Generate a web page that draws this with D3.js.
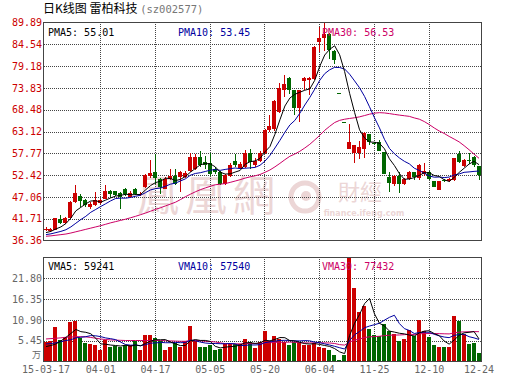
<!DOCTYPE html>
<html>
<head>
<meta charset="utf-8">
<script src="https://cdnjs.cloudflare.com/ajax/libs/d3/7.8.5/d3.min.js"></script>
<style>
  body { margin: 0; background: #fff; }
  svg { display: block; }
  text { font-family: "DejaVu Sans Mono", monospace; font-size: 10px; }
</style>
</head>
<body>
<div id="chart"></div>
<script>
// Daily K-line, 雷柏科技 (sz002577)
const open = [38.9,38.8,39.0,41.7,40.6,42.0,45.8,47.3,46.2,44.6,
  45.0,45.6,46.6,48.5,48.4,48.0,48.9,47.0,48.9,47.7,
  49.4,52.1,53.1,51.5,49.1,51.5,52.3,51.9,51.9,53.5,
  54.0,56.9,55.6,55.4,54.0,53.1,50.3,52.3,55.8,54.2,
  54.4,57.9,54.8,56.0,57.9,63.4,63.8,67.9,73.4,76.2,
  73.2,69.0,75.6,75.8,76.1,85.05,86.0,87.1,83.0,72.7,
  65.4,58.8,57.9,57.9,58.9,62.4,60.4,60.5,58.0,52.0,
  50.2,52.3,50.2,51.5,53.1,51.6,52.7,53.3,50.9,48.8,
  51.3,50.9,51.2,57.6,54.7,56.2,56.8,54.6];
const high = [39.6,39.4,41.9,42.7,42.2,46.1,50.1,47.8,46.5,45.8,
  48.2,46.5,49.9,48.8,48.6,48.3,49.2,48.4,49.3,48.3,
  52.6,56.2,57.5,51.7,51.9,53.9,53.9,53.4,53.5,57.9,
  57.7,58.3,57.2,57.8,54.4,53.4,52.7,55.5,57.6,55.7,
  58.7,58.9,56.5,58.3,63.8,67.1,70.9,75.0,76.9,76.6,
  73.4,73.4,76.4,76.5,84.0,88.7,89.89,87.3,83.2,72.7,
  65.4,65.0,59.9,60.7,62.9,62.6,60.6,61.0,58.2,53.1,
  52.4,53.1,51.6,53.5,53.2,55.1,55.4,53.5,51.0,51.0,
  51.5,51.7,56.6,58.4,56.3,57.8,57.0,54.6];
const low = [38.6,38.5,38.9,40.4,40.3,41.8,45.5,44.6,44.6,44.2,
  44.8,45.3,46.5,47.1,47.3,44.2,47.4,46.8,47.6,47.4,
  49.2,51.8,50.3,47.8,48.9,51.1,49.9,48.2,51.6,53.1,
  53.7,54.5,54.0,52.3,52.7,50.1,50.1,52.0,54.4,54.0,
  54.2,54.0,54.5,55.7,57.6,63.0,63.3,67.6,71.6,72.4,
  67.1,65.4,73.2,72.0,75.8,82.6,83.0,81.0,79.6,72.7,
  65.4,58.8,55.3,56.4,56.7,59.9,59.8,58.3,52.6,48.2,
  49.8,48.0,50.1,51.1,51.2,51.3,52.3,51.3,49.5,48.7,
  50.7,50.8,51.0,55.4,54.5,55.2,54.3,51.1];
const close = [39.2,39.1,41.8,40.6,41.9,45.9,48.0,46.1,45.0,45.3,
  46.2,46.3,48.6,47.7,47.6,47.0,47.7,48.0,47.8,47.9,
  52.5,53.0,51.7,49.5,51.5,52.3,50.3,53.2,53.0,56.8,
  56.9,54.8,54.8,52.6,53.2,50.3,52.5,55.0,54.8,55.2,
  57.9,55.6,56.0,57.8,63.4,64.4,70.7,73.7,74.7,73.2,
  69.0,73.2,76.2,76.3,83.8,86.1,87.1,83.2,80.7,72.7,
  65.4,60.5,59.7,59.4,62.7,60.5,60.1,58.4,52.7,50.4,
  52.3,50.2,51.4,53.1,52.0,55.0,53.5,51.5,49.6,50.9,
  50.9,51.4,56.5,55.6,56.1,56.0,54.8,52.4];

const ma5 = [38.3,38.6,39.2,39.7,40.52,41.86,43.64,44.5,45.38,46.06,
  46.12,45.78,46.28,46.82,47.28,47.44,47.72,47.6,47.62,47.68,
  48.78,49.84,50.58,50.92,51.64,51.6,51.06,51.36,52.06,53.12,
  54.04,54.94,55.26,55.18,54.46,53.14,52.68,52.72,53.16,53.56,
  55.08,55.7,55.9,56.5,58.14,59.44,62.46,66.0,69.38,71.34,
  72.26,72.76,73.26,73.58,75.7,79.12,81.9,83.3,84.18,81.96,
  77.82,72.5,67.8,63.54,61.54,60.56,60.48,60.22,58.88,56.42,
  54.78,52.8,51.4,51.48,51.8,52.34,53.0,53.02,52.32,52.1,
  51.28,50.86,51.86,53.06,54.1,55.12,55.8,54.98];
const ma10 = [37.8,38.0,38.3,38.6,39.0,39.7,40.6,41.5,42.3,43.29,
  43.99,44.71,45.39,46.1,46.67,46.78,46.75,46.94,47.22,47.48,
  48.11,48.78,49.09,49.27,49.66,50.19,50.45,50.97,51.49,52.38,
  52.82,53.0,53.31,53.62,53.79,53.59,53.81,53.99,54.17,54.01,
  54.11,54.19,54.31,54.83,55.85,57.26,59.08,60.95,62.94,64.74,
  65.85,67.61,69.63,71.48,73.52,75.69,77.33,78.28,78.88,78.83,
  78.47,77.2,75.55,73.86,71.75,69.19,66.49,64.01,61.21,58.98,
  57.67,56.64,55.81,55.18,54.11,53.56,52.9,52.21,51.9,51.95,
  51.81,51.93,52.44,52.69,53.1,53.2,53.33,53.42];
const ma30 = [37.4,37.5,37.65,37.8,37.95,38.2,38.5,38.8,39.1,39.4,
  39.7,40.0,40.35,40.7,41.0,41.3,41.6,41.95,42.3,42.7,
  43.1,43.55,44.0,44.4,44.85,45.3,45.75,46.4,47.1,47.72,
  48.31,48.83,49.26,49.66,50.04,50.19,50.34,50.63,50.96,51.29,
  51.68,51.99,52.24,52.57,53.1,53.68,54.45,55.3,56.2,57.04,
  57.59,58.27,59.08,59.98,61.05,62.18,63.41,64.41,65.33,65.86,
  66.14,66.33,66.5,66.72,67.04,67.38,67.63,67.75,67.68,67.52,
  67.33,67.15,67.0,66.84,66.46,66.15,65.57,64.83,64.0,63.25,
  62.65,61.92,61.27,60.58,59.65,58.65,57.57,56.55];

// volume in 万手
const volume = [5.06,5.3,9.0,5.67,6.5,10.3,10.55,6.1,4.8,4.6,
  4.45,3.1,5.67,3.75,4.0,3.75,4.2,4.36,5.3,2.9,
  7.06,7.06,6.2,5.3,3.1,3.75,4.9,3.75,5.5,9.3,
  5.3,3.75,3.75,4.2,2.9,3.2,4.7,4.5,4.6,4.6,
  6.0,5.0,3.5,5.2,8.1,5.3,6.8,6.0,5.0,4.2,
  5.0,4.9,4.3,4.45,4.8,3.9,3.5,3.1,1.6,0.5,
  1.6,27.25,19.2,13.1,14.65,8.4,7.06,6.8,9.7,7.9,
  7.1,5.5,6.0,8.2,6.6,11.0,8.0,6.5,4.45,3.93,
  3.93,3.93,11.9,10.5,7.3,4.6,4.9,2.3];
const vma5 = [3.9,4.2,4.6,5.4,6.31,7.35,8.4,7.82,7.65,7.27,
  6.1,4.61,4.52,4.31,4.19,4.05,4.27,4.01,4.32,4.1,
  4.76,5.34,5.7,5.7,5.74,5.08,4.65,4.16,4.2,5.44,
  5.75,5.52,5.52,5.26,3.98,3.56,3.75,3.9,3.98,4.32,
  4.88,4.94,4.74,4.86,5.56,5.42,5.78,6.28,6.24,5.46,
  5.4,5.02,4.68,4.57,4.69,4.47,4.19,3.95,3.38,2.52,
  2.06,6.81,10.03,12.33,15.16,16.52,12.48,10.0,9.32,7.97,
  7.71,7.4,7.24,6.94,6.68,7.46,7.96,8.06,7.31,6.78,
  5.36,4.55,5.63,6.84,7.51,7.65,7.84,5.92];
const vma10 = [4.6,4.7,4.9,5.2,5.5,5.7,6.2,6.35,6.5,6.79,
  6.73,6.51,6.17,5.98,5.73,5.08,4.44,4.27,4.32,4.15,
  4.41,4.8,4.86,5.01,4.92,4.92,4.99,4.93,4.95,5.59,
  5.42,5.09,4.84,4.73,4.71,4.66,4.64,4.71,4.62,4.15,
  4.22,4.35,4.32,4.42,4.94,5.15,5.36,5.51,5.55,5.51,
  5.41,5.4,5.48,5.41,5.08,4.94,4.61,4.32,3.98,3.61,
  3.27,5.5,6.99,7.86,8.84,9.29,9.65,10.02,10.83,11.57,
  12.12,9.94,8.62,8.13,7.33,7.59,7.68,7.65,7.13,6.73,
  6.41,6.25,6.84,7.07,7.14,6.5,6.19,5.77];
const vma30 = [5.9,6.0,6.1,6.2,6.35,6.4,6.5,6.5,6.45,6.3,
  6.1,5.9,5.75,5.65,5.6,5.55,5.5,5.5,5.5,5.5,
  5.5,5.5,5.5,5.5,5.45,5.4,5.35,5.3,5.3,5.51,
  5.52,5.47,5.29,5.24,5.12,4.89,4.69,4.64,4.63,4.63,
  4.68,4.75,4.67,4.72,4.86,4.91,5.0,5.05,5.04,5.08,
  5.02,4.94,4.88,4.85,4.91,4.91,4.87,4.85,4.72,4.42,
  4.3,5.08,5.6,5.89,6.29,6.46,6.54,6.61,6.78,6.89,
  6.93,6.95,7.03,7.13,7.08,7.27,7.31,7.33,7.31,7.3,
  7.26,7.23,7.49,7.69,7.77,7.79,7.84,7.81];

const priceTicks = [36.36, 41.71, 47.06, 52.42, 57.77, 63.12, 68.48, 73.83, 79.18, 84.54, 89.89];
const volTicks = [5.45, 10.90, 16.35, 21.80];
const xTickIdx = [0, 11, 22, 33, 44, 55, 66, 77, 87];
const xTickLabels = ['15-03-17', '04-01', '04-17', '05-05', '05-20', '06-04', '11-25', '12-10', '12-24'];

const priceLegend = [['PMA5: 55.01', '#000000'], ['PMA10: 53.45', '#0000a0'], ['PMA30: 56.53', '#cc0066']];
const volLegend = [['VMA5: 59241', '#000000'], ['VMA10: 57540', '#0000a0'], ['VMA30: 77432', '#cc0066']];

const W = 530, H = 391;
const left = 43.5, right = 481.5;
const pTop = 22.5, pBot = 240.5;
const vTop = 257.5, vBot = 361.5;
const UP = '#cc0000', DOWN = '#006600', GRID = '#444';

const svg = d3.select('#chart').append('svg')
    .attr('width', W)
    .attr('height', H);

const idx = d3.range(close.length);
const x = d3.scaleBand().domain(idx).range([left, right]);
const y = d3.scaleLinear().domain([36.36, 89.89]).range([pBot, pTop]);
const yv = d3.scaleLinear().domain([0, 27.25]).range([vBot, vTop]);
const cx = i => x(i) + x.bandwidth() / 2;
const bx = i => Math.round(x(i));

// colour of a day: up red, down green (flat days compared with previous close)
const isUp = i => close[i] > open[i] || (close[i] === open[i] && i > 0 && close[i] >= close[i - 1]);

// watermark
const wm = svg.append('g').attr('fill', '#ecd6d6');
wm.append('text')
    .attr('x', 137).attr('y', 192)
    .attr('dominant-baseline', 'central')
    .style('font-family', '"Noto Sans CJK TC"')
    .style('font-size', '42px')
    .style('letter-spacing', '6px')
    .text('鳳凰網');
wm.append('circle').attr('cx', 305).attr('cy', 197).attr('r', 14)
    .attr('fill', 'none').attr('stroke', '#ecd6d6').attr('stroke-width', 5);
wm.append('circle').attr('cx', 306).attr('cy', 196).attr('r', 5);
wm.append('text')
    .attr('x', 338).attr('y', 190)
    .attr('dominant-baseline', 'central')
    .style('font-family', '"Noto Sans CJK TC"')
    .style('font-size', '22px')
    .text('財經');
wm.append('text')
    .attr('x', 364).attr('y', 216)
    .attr('text-anchor', 'middle')
    .style('font-family', 'DejaVu Sans')
    .style('font-size', '8px')
    .style('font-weight', 'bold')
    .text('finance.ifeng.com');

// grid lines
function styleGrid(g) {
    g.select('.domain').remove();
    g.selectAll('text').remove();
    g.selectAll('line')
        .attr('stroke', GRID)
        .attr('stroke-dasharray', '1,1')
        .attr('shape-rendering', 'crispEdges');
}
svg.append('g')
    .attr('transform', `translate(${left},0)`)
    .call(d3.axisLeft(y).tickValues(priceTicks.slice(1, -1)).tickSize(-(right - left)))
    .call(styleGrid);
svg.append('g')
    .attr('transform', `translate(${left},0)`)
    .call(d3.axisLeft(yv).tickValues(volTicks).tickSize(-(right - left)))
    .call(styleGrid);
const vGrid = xTickIdx.slice(1, -1);
svg.append('g')
    .attr('transform', `translate(0,${pBot})`)
    .call(d3.axisBottom(x).tickValues(vGrid).tickSize(-(pBot - pTop)))
    .call(styleGrid);
svg.append('g')
    .attr('transform', `translate(0,${vBot})`)
    .call(d3.axisBottom(x).tickValues(vGrid).tickSize(-(vBot - vTop)))
    .call(styleGrid);

// candles
const candles = svg.append('g').attr('shape-rendering', 'crispEdges');
candles.selectAll('rect.wick')
    .data(idx)
    .join('rect')
    .attr('class', 'wick')
    .attr('x', i => bx(i) + 2)
    .attr('width', 1)
    .attr('y', i => y(high[i]))
    .attr('height', i => Math.max(1, y(low[i]) - y(high[i])))
    .attr('fill', i => isUp(i) ? UP : DOWN);
candles.selectAll('rect.body')
    .data(idx)
    .join('rect')
    .attr('class', 'body')
    .attr('x', i => bx(i))
    .attr('width', 4)
    .attr('y', i => y(Math.max(open[i], close[i])))
    .attr('height', i => Math.max(1, Math.abs(y(open[i]) - y(close[i]))))
    .attr('fill', i => isUp(i) ? UP : DOWN);

// volume bars
svg.append('g').attr('shape-rendering', 'crispEdges')
    .selectAll('rect')
    .data(idx)
    .join('rect')
    .attr('x', i => bx(i))
    .attr('width', 4)
    .attr('y', i => yv(volume[i]))
    .attr('height', i => vBot - yv(volume[i]))
    .attr('fill', i => isUp(i) ? UP : DOWN);

// moving averages
function drawLine(values, scale, color) {
    svg.append('path')
        .datum(idx)
        .attr('fill', 'none')
        .attr('stroke', color)
        .attr('stroke-width', 1)
        .attr('d', d3.line().x(cx).y(i => scale(values[i])));
}
drawLine(ma30, y, '#cc0066');
drawLine(ma10, y, '#0000a0');
drawLine(ma5, y, '#000000');
drawLine(vma30, yv, '#cc0066');
drawLine(vma10, yv, '#0000a0');
drawLine(vma5, yv, '#000000');

// frames
[[pTop, pBot], [vTop, vBot]].forEach(([t, b]) => {
    svg.append('rect')
        .attr('x', left).attr('y', t)
        .attr('width', right - left).attr('height', b - t)
        .attr('fill', 'none')
        .attr('stroke', GRID)
        .attr('shape-rendering', 'crispEdges');
});

// axes labels
svg.append('g')
    .attr('transform', `translate(42,0)`)
    .call(d3.axisLeft(y).tickValues(priceTicks).tickSize(0).tickPadding(0).tickFormat(d3.format('.2f')))
    .call(g => g.select('.domain').remove())
    .call(g => g.selectAll('text').attr('fill', '#cc0000').style('font-family', '"DejaVu Sans Mono"').style('font-size', '10px'));
svg.append('g')
    .attr('transform', `translate(42,0)`)
    .call(d3.axisLeft(yv).tickValues(volTicks).tickSize(0).tickPadding(0).tickFormat(d3.format('.2f')))
    .call(g => g.select('.domain').remove())
    .call(g => g.selectAll('text').attr('fill', '#666').style('font-family', '"DejaVu Sans Mono"').style('font-size', '10px'));
svg.append('text')
    .attr('x', 41).attr('y', 358)
    .attr('text-anchor', 'end')
    .attr('fill', '#666')
    .style('font-family', '"Noto Sans CJK SC"')
    .style('font-size', '9px')
    .text('万');

svg.append('g')
    .attr('transform', `translate(0,${vBot})`)
    .call(d3.axisBottom(x).tickValues(xTickIdx).tickSize(0).tickPadding(4)
        .tickFormat(i => xTickLabels[xTickIdx.indexOf(i)]))
    .call(g => g.select('.domain').remove())
    .call(g => g.selectAll('text').attr('fill', '#666').style('font-family', '"DejaVu Sans Mono"').style('font-size', '10px'));

// legends
const legendX = [48, 178, 322];
priceLegend.forEach(([t, c], k) => {
    svg.append('text').attr('x', legendX[k]).attr('y', 36).attr('fill', c).text(t);
});
volLegend.forEach(([t, c], k) => {
    svg.append('text').attr('x', legendX[k]).attr('y', 270).attr('fill', c).text(t);
});

// title
const title = svg.append('text').attr('x', 43).attr('y', 13);
title.append('tspan')
    .style('font-family', '"Noto Sans CJK SC"')
    .style('font-size', '12px')
    .attr('fill', '#000')
    .text('日K线图 雷柏科技 ');
title.append('tspan')
    .style('font-family', '"DejaVu Sans Mono"')
    .style('font-size', '10.5px')
    .attr('fill', '#777')
    .text('(sz002577)');
</script>
</body>
</html>
